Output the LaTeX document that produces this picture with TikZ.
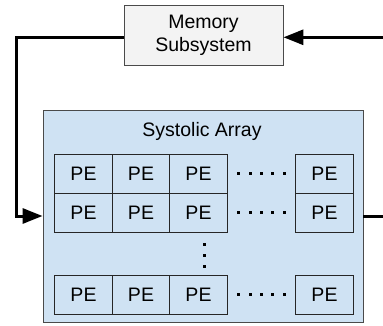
\documentclass[tikz,border=0pt]{standalone}
\usepackage{fontspec}
\setmainfont{Liberation Sans}
\usetikzlibrary{arrows.meta}

\definecolor{arrayblue}{HTML}{CFE2F3}
\definecolor{memgray}{HTML}{F3F3F3}
\definecolor{edgegray}{HTML}{4A4A4A}

\begin{document}
\begin{tikzpicture}[x=1pt,y=-1pt,>={Triangle[length=20pt,width=15pt]},node distance=57.5pt,
  pe node/.style={rectangle,draw=black!85,line width=0.9pt,fill=arrayblue,minimum width=57.5pt,minimum height=39pt,inner sep=0pt,font=\fontsize{19.5}{22}\selectfont},
  mem node/.style={rectangle,draw=edgegray,line width=0.9pt,fill=memgray,minimum width=159pt,minimum height=60pt,inner sep=0pt,align=center,font=\fontsize{19.5}{22.5}\selectfont},
  array node/.style={rectangle,draw=edgegray,line width=0.9pt,fill=arrayblue,minimum width=320pt,minimum height=212pt},
  bus/.style={line width=3pt}]

  \useasboundingbox (0,0) rectangle (383,326);

  \node[mem node] (mem) at (203.5,35.3) {Memory\\Subsystem};
  \node[array node] (sa) at (203,216) {};
  \node[font=\fontsize{19.5}{22}\selectfont] (title) at (202,131) {Systolic Array};

  % PE grid: two rows on top, one at the bottom
  \node[pe node] (p11) at (83.5,173.5) {PE};
  \node[pe node] (p12) [right of=p11] {PE};
  \node[pe node] (p13) [right of=p12] {PE};
  \node (h1) [right of=p13, node distance=63pt] {};
  \node[pe node] (p1n) [right of=h1, node distance=63pt] {PE};

  \node[pe node] (p21) [below of=p11, node distance=39pt] {PE};
  \node[pe node] (p22) [right of=p21] {PE};
  \node[pe node] (p23) [right of=p22] {PE};
  \node (h2) [right of=p23, node distance=63pt] {};
  \node[pe node] (p2n) [right of=h2, node distance=63pt] {PE};

  \node[pe node] (pm1) [below of=p21, node distance=82pt] {PE};
  \node[pe node] (pm2) [right of=pm1] {PE};
  \node[pe node] (pm3) [right of=pm2] {PE};
  \node (hm) [right of=pm3, node distance=63pt] {};
  \node[pe node] (pmn) [right of=hm, node distance=63pt] {PE};

  \node (vd) at (204,255.5) {};

  % dots between the columns and rows
  \foreach \h in {h1,h2,hm}
    \foreach \i in {-2,...,2}
      \fill ([xshift=\i*11.4pt]\h.center) +(-1.5pt,-1.5pt) rectangle +(1.5pt,1.5pt);
  \foreach \i in {-1,0,1}
    \fill ([yshift=\i*11.2pt]vd.center) +(-1.5pt,-1.5pt) rectangle +(1.5pt,1.5pt);

  % memory loop
  \coordinate (lbend) at (16,216);
  \coordinate (rin) at (383,37.3);
  \coordinate (rout) at (383,216);
  \draw[bus,->] ([yshift=-2pt]mem.west) -| (lbend) -- (sa.west);
  \draw[bus,->] (rin) -- ([yshift=-2pt]mem.east);
  \draw[bus] (sa.east) -- (rout);
\end{tikzpicture}
\end{document}
